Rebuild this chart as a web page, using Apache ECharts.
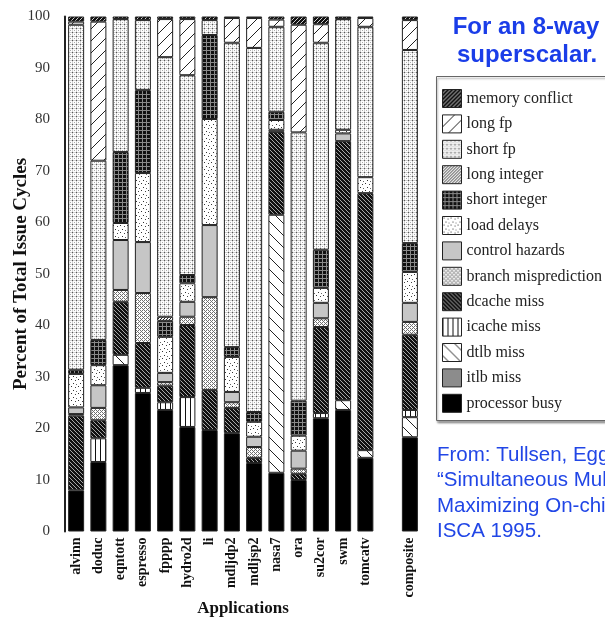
<!DOCTYPE html>
<html>
<head>
<meta charset="utf-8">
<script src="https://cdn.jsdelivr.net/npm/echarts@6/dist/echarts.min.js"></script>
<style>
html,body{margin:0;padding:0;background:#fff;}
#chart{width:605px;height:620px;}
</style>
</head>
<body>
<div id="chart"></div>
<script>
// ---- data ----
const categories = ['alvinn','doduc','eqntott','espresso','fpppp','hydro2d','li','mdljdp2','mdljsp2','nasa7','ora','su2cor','swm','tomcatv','','composite'];
const yTicks = [0,10,20,30,40,50,60,70,80,90,100];

const processorBusy  = [8, 13.5, 32.3, 26.9, 23.6, 20.3, 19.7, 19.1, 13.3, 11.4, 10, 22, 23.6, 14.3, null, 18.3];
const itlbMiss       = [0, 0, 0, 0, 0, 0, 0, 0, 0, 0, 0, 0, 0, 0, null, 0];
const dtlbMiss       = [0, 0, 2, 0, 0, 0, 0, 0, 0, 50.1, 0, 0, 1.9, 1.5, null, 3.9];
const icacheMiss     = [0, 4.6, 0, 1, 1.5, 5.8, 0, 0, 0, 0, 0, 1, 0, 0, null, 1.4];
const dcacheMiss     = [14.5, 3.5, 10.3, 8.7, 3.2, 14, 7.8, 4.9, 1, 16.1, 1.2, 16.7, 50.3, 49.9, null, 14.6];
const branchMispred  = [0.3, 2.4, 2.3, 9.7, 0.7, 1.6, 18, 1.1, 2.1, 0, 1, 1.7, 0, 0, null, 2.5];
const controlHazards = [1.3, 4.4, 9.7, 9.9, 1.8, 2.9, 14, 2, 2, 0.4, 3.5, 3, 1.5, 0, null, 3.7];
const loadDelays     = [6.5, 3.9, 3.3, 13.4, 7, 3.6, 20.6, 6.8, 2.9, 1.9, 2.9, 2.9, 0.7, 3.1, null, 6];
const shortInteger   = [0.8, 4.9, 13.8, 16.1, 3.1, 1.6, 16.3, 1.9, 1.9, 1.6, 6.8, 7.4, 0, 0, null, 5.6];
const longInteger    = [0, 0, 0, 0, 0.8, 0, 0, 0, 0, 0, 0, 0, 0, 0, null, 0];
const shortFp        = [67, 34.8, 25.8, 13.6, 50.4, 38.8, 2.9, 59.1, 70.7, 16.5, 52.1, 40.2, 21.5, 29.2, null, 37.5];
const longFp         = [0.6, 27, 0, 0, 7.4, 10.9, 0, 4.8, 5.8, 1.4, 20.9, 3.6, 0, 1.7, null, 5.8];
const memoryConflict = [1, 1, 0.5, 0.7, 0.5, 0.5, 0.7, 0.3, 0.3, 0.6, 1.6, 1.5, 0.5, 0.3, null, 0.7];

const seriesNames = ['processor busy','itlb miss','dtlb miss','icache miss','dcache miss','branch misprediction','control hazards','load delays','short integer','long integer','short fp','long fp','memory conflict'];
const seriesValues = [processorBusy, itlbMiss, dtlbMiss, icacheMiss, dcacheMiss, branchMispred, controlHazards, loadDelays, shortInteger, longInteger, shortFp, longFp, memoryConflict];

// ---- patterns ----
function pat(w, h, bg, pixels) {
  const c = document.createElement('canvas');
  c.width = w; c.height = h;
  const g = c.getContext('2d');
  g.fillStyle = bg; g.fillRect(0, 0, w, h);
  pixels(g, w, h);
  return { image: c, repeat: 'repeat' };
}
function px(g, x, y, col) { g.fillStyle = col; g.fillRect(x, y, 1, 1); }

const fills = {
  'processor busy': '#000000',
  'itlb miss': '#8c8c8c',
  'control hazards': '#c6c6c6',
  'dtlb miss': pat(12, 12, '#ffffff', (g, w) => { for (let i = 0; i < w; i++) px(g, i, i, '#222'); }),
  'long fp': pat(12, 12, '#ffffff', (g, w) => { for (let i = 0; i < w; i++) px(g, i, w - 1 - i, '#222'); }),
  'icache miss': pat(5, 2, '#ffffff', (g) => { px(g, 0, 0, '#111'); px(g, 0, 1, '#111'); }),
  'dcache miss': pat(4, 4, '#111111', (g, w) => { for (let i = 0; i < w; i++) px(g, i, i, '#a8a8a8'); }),
  'memory conflict': pat(4, 4, '#111111', (g, w) => { for (let i = 0; i < w; i++) px(g, i, w - 1 - i, '#cfcfcf'); }),
  'long integer': pat(3, 3, '#ffffff', (g, w) => { for (let i = 0; i < w; i++) px(g, i, w - 1 - i, '#222'); }),
  'short integer': pat(4, 4, '#111111', (g) => { for (let i = 0; i < 4; i++) { px(g, i, 2, '#8a8a8a'); px(g, 2, i, '#8a8a8a'); } }),
  'short fp': pat(4, 4, '#ffffff', (g) => { for (let i = 0; i < 4; i++) { px(g, i, 0, '#d0d0d0'); px(g, 0, i, '#d0d0d0'); } px(g, 0, 0, '#555'); px(g, 2, 2, '#aaa'); }),
  'load delays': pat(7, 7, '#ffffff', (g) => { px(g, 1, 1, '#333'); px(g, 5, 2, '#444'); px(g, 3, 5, '#333'); px(g, 6, 6, '#666'); }),
  'branch misprediction': pat(4, 4, '#ffffff', (g) => { for (let y = 0; y < 4; y++) for (let x = 0; x < 4; x++) if ((x + y) % 2 === 0) px(g, x, y, '#707070'); px(g, 1, 1, '#fff'); px(g, 3, 3, '#fff'); })
};

const series = seriesNames.map((name, k) => ({
  name: name,
  type: 'bar',
  stack: 'total',
  barWidth: 16,
  data: seriesValues[k].map(v => (v === null || v === 0) ? null : v),
  itemStyle: { color: fills[name], borderColor: '#222', borderWidth: 1 },
  emphasis: { disabled: true },
  animation: false
}));

const serif = '"Liberation Serif","Times New Roman",serif';
const sans = '"Liberation Sans",Arial,sans-serif';
const chart = echarts.init(document.getElementById('chart'), null, { renderer: 'canvas' });

chart.setOption({
  animation: false,
  backgroundColor: '#ffffff',
  grid: { left: 65, right: 184, top: 16.5, bottom: 88.5, containLabel: false, outerBoundsMode: 'none' },
  xAxis: {
    type: 'category',
    data: categories,
    axisLine: { show: false },
    axisTick: { show: false },
    axisLabel: { rotate: 90, interval: 0, margin: 6, fontFamily: serif, fontWeight: 'bold', fontSize: 14, color: '#111' },
    name: 'Applications',
    nameLocation: 'middle',
    nameGap: 69,
    nameMoveOverlap: false,
    nameTextStyle: { fontFamily: serif, fontWeight: 'bold', fontSize: 17, color: '#111', verticalAlign: 'top' }
  },
  yAxis: {
    type: 'value',
    min: yTicks[0],
    max: yTicks[yTicks.length - 1],
    interval: yTicks[1] - yTicks[0],
    axisLine: { show: true, lineStyle: { color: '#222', width: 2 } },
    axisTick: { show: false },
    splitLine: { show: false },
    axisLabel: { margin: 15, fontFamily: serif, fontSize: 15, color: '#333' },
    name: 'Percent of Total Issue Cycles',
    nameLocation: 'middle',
    nameGap: 34,
    nameMoveOverlap: false,
    nameTextStyle: { fontFamily: serif, fontWeight: 'bold', fontSize: 19, color: '#111' }
  },
  legend: {
    orient: 'vertical',
    left: 442,
    top: 89,
    z: 5,
    padding: 0,
    icon: 'rect',
    itemWidth: 19,
    itemHeight: 18,
    itemGap: 6.4,
    selectedMode: false,
    data: seriesNames.slice().reverse(),
    itemStyle: { borderColor: '#222', borderWidth: 1 },
    textStyle: { fontFamily: serif, fontSize: 16, color: '#222', padding: [0, 0, 0, 0] }
  },
  graphic: [
    { type: 'rect', z: 1, shape: { x: 436.5, y: 76.5, width: 220, height: 344 },
      style: { fill: '#ffffff', stroke: '#666', lineWidth: 1, shadowColor: 'rgba(0,0,0,0.35)', shadowOffsetX: 1, shadowOffsetY: 2, shadowBlur: 2 } },
    { type: 'text', z: 5, style: { text: 'For an 8-way', x: 526, y: 27, textAlign: 'center', textVerticalAlign: 'middle', fill: '#1a3de8', font: 'bold 24px ' + sans } },
    { type: 'text', z: 5, style: { text: 'superscalar.', x: 527, y: 55, textAlign: 'center', textVerticalAlign: 'middle', fill: '#1a3de8', font: 'bold 24px ' + sans } },
    { type: 'text', z: 5, style: { text: 'From: Tullsen, Eggers, and Levy,', x: 437, y: 455, textVerticalAlign: 'middle', fill: '#2146e6', font: '20.5px ' + sans } },
    { type: 'text', z: 5, style: { text: '\u201CSimultaneous Multithreading:', x: 437, y: 480.5, textVerticalAlign: 'middle', fill: '#2146e6', font: '20.5px ' + sans } },
    { type: 'text', z: 5, style: { text: 'Maximizing On-chip Parallelism,', x: 437, y: 506, textVerticalAlign: 'middle', fill: '#2146e6', font: '20.5px ' + sans } },
    { type: 'text', z: 5, style: { text: 'ISCA 1995.', x: 437, y: 531.5, textVerticalAlign: 'middle', fill: '#2146e6', font: '20.5px ' + sans } }
  ],
  series: series
});
</script>
</body>
</html>
